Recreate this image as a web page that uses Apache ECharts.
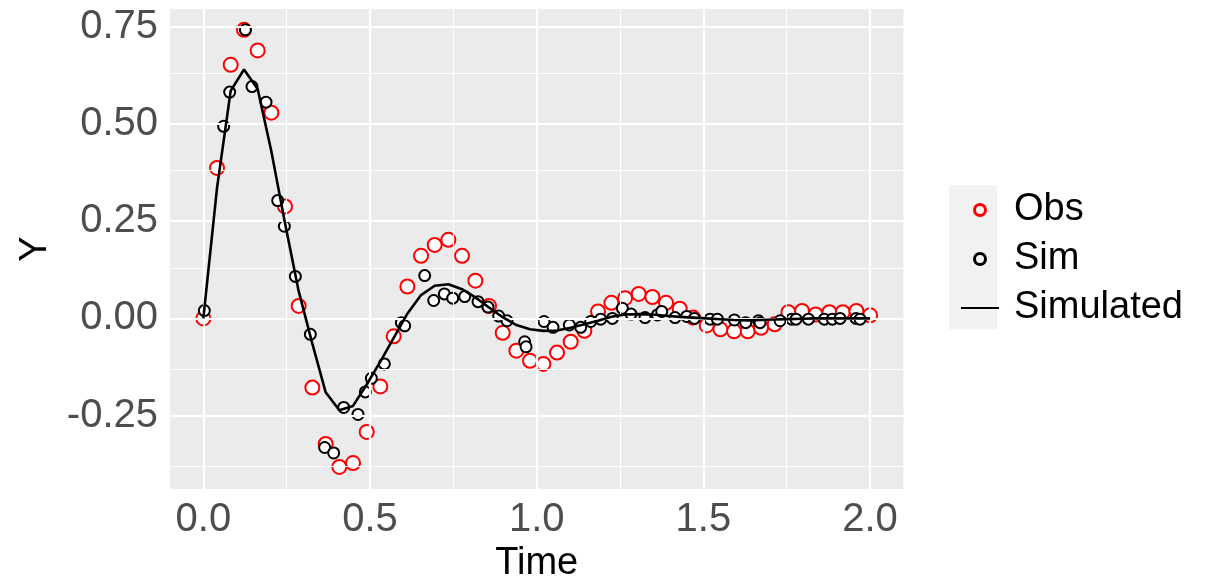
<!DOCTYPE html>
<html>
<head>
<meta charset="utf-8">
<script src="https://cdn.jsdelivr.net/npm/echarts@6/dist/echarts.min.js"></script>
<style>
html,body{margin:0;padding:0;background:#fff;}
#chart{width:1207px;height:580px;}
</style>
</head>
<body>
<div id="chart"></div>
<script>
// ---- data ----
const obsTime = [0.000, 0.041, 0.082, 0.122, 0.163, 0.204, 0.245, 0.286, 0.327, 0.367,
  0.408, 0.449, 0.490, 0.531, 0.571, 0.612, 0.653, 0.694, 0.735, 0.776,
  0.816, 0.857, 0.898, 0.939, 0.980, 1.020, 1.061, 1.102, 1.143, 1.184,
  1.224, 1.265, 1.306, 1.347, 1.388, 1.429, 1.469, 1.510, 1.551, 1.592,
  1.633, 1.673, 1.714, 1.755, 1.796, 1.837, 1.878, 1.918, 1.959, 2.000];
const obsY = [0.000, 0.387, 0.652, 0.742, 0.689, 0.529, 0.288, 0.032, -0.178, -0.323,
  -0.382, -0.372, -0.292, -0.175, -0.046, 0.082, 0.161, 0.189, 0.202, 0.161,
  0.097, 0.032, -0.037, -0.083, -0.109, -0.117, -0.088, -0.060, -0.032, 0.018,
  0.040, 0.052, 0.063, 0.055, 0.040, 0.025, 0.002, -0.018, -0.028, -0.033,
  -0.033, -0.024, -0.015, 0.016, 0.019, 0.010, 0.016, 0.016, 0.019, 0.008];
const simulatedY = [0.000, 0.335, 0.585, 0.640, 0.590, 0.430, 0.245, 0.070, -0.065, -0.190,
  -0.236, -0.225, -0.170, -0.111, -0.050, 0.012, 0.060, 0.084, 0.088, 0.075,
  0.054, 0.028, 0.003, -0.017, -0.028, -0.032, -0.031, -0.024, -0.015, -0.006,
  0.004, 0.010, 0.011, 0.010, 0.007, 0.004, 0.002, 0.000, -0.002, -0.004,
  -0.005, -0.004, -0.003, -0.002, -0.001, 0.000, 0.000, 0.000, 0.000, 0.000];
const simTime = [0.003, 0.061, 0.079, 0.126, 0.146, 0.188, 0.223, 0.243, 0.276, 0.321,
  0.364, 0.391, 0.421, 0.464, 0.486, 0.504, 0.543, 0.594, 0.604, 0.664,
  0.691, 0.723, 0.748, 0.784, 0.824, 0.854, 0.886, 0.911, 0.964, 0.968,
  1.022, 1.049, 1.098, 1.132, 1.162, 1.192, 1.227, 1.257, 1.283, 1.325,
  1.362, 1.375, 1.415, 1.450, 1.473, 1.520, 1.542, 1.593, 1.627, 1.665,
  1.670, 1.730, 1.765, 1.778, 1.815, 1.863, 1.887, 1.910, 1.958, 1.970];
const simY = [0.020, 0.494, 0.582, 0.742, 0.596, 0.556, 0.303, 0.237, 0.108, -0.041,
  -0.332, -0.346, -0.229, -0.247, -0.189, -0.154, -0.117, -0.011, -0.019, 0.110,
  0.046, 0.063, 0.052, 0.056, 0.043, 0.029, 0.006, -0.006, -0.060, -0.073,
  -0.008, -0.023, -0.017, -0.023, -0.008, -0.002, 0.000, 0.026, 0.011, 0.002,
  0.009, 0.018, 0.002, 0.005, 0.000, -0.002, -0.002, -0.004, -0.011, -0.006,
  -0.011, -0.006, -0.002, -0.002, -0.002, -0.002, -0.002, 0.000, 0.000, -0.002];
const xTicks = [0, 0.5, 1.0, 1.5, 2.0];
const xTickLabels = ['0.0', '0.5', '1.0', '1.5', '2.0'];
const xMinor = [0.25, 0.75, 1.25, 1.75];
const yTicks = [-0.25, 0, 0.25, 0.5, 0.75];
const yTickLabels = ['-0.25', '0.00', '0.25', '0.50', '0.75'];
const yMinor = [-0.375, -0.125, 0.125, 0.375, 0.625];

// ---- chart ----
const chart = echarts.init(document.getElementById('chart'), null, {renderer: 'canvas'});
const FONT = '"Liberation Sans", Arial, sans-serif';
const zip = (a, b) => a.map((v, i) => [v, b[i]]);
const gridLines = [];
xMinor.forEach(v => gridLines.push({xAxis: v, lineStyle: {width: 1.1}}));
yMinor.forEach(v => gridLines.push({yAxis: v, lineStyle: {width: 1.1}}));
xTicks.forEach(v => gridLines.push({xAxis: v, lineStyle: {width: 2.2}}));
yTicks.forEach(v => gridLines.push({yAxis: v, lineStyle: {width: 2.2}}));

const option = {
  animation: false,
  backgroundColor: '#FFFFFF',
  grid: {left: 170, right: 303.6, top: 9, bottom: 91, show: true,
    backgroundColor: '#EBEBEB', borderWidth: 0, containLabel: false,
    outerBoundsMode: 'none'},
  xAxis: {
    type: 'value', min: -0.1, max: 2.1,
    name: 'Time', nameLocation: 'middle', nameGap: 54,
    nameTextStyle: {fontFamily: FONT, fontSize: 38, color: '#000000'},
    axisLine: {show: false},
    axisTick: {show: true, customValues: xTicks, length: 6, lineStyle: {color: '#333333', width: 2}},
    axisLabel: {customValues: xTicks, margin: 11, fontFamily: FONT, fontSize: 40, color: '#4D4D4D',
      formatter: v => xTickLabels[xTicks.indexOf(v)] ?? ''},
    splitLine: {show: false}
  },
  yAxis: {
    type: 'value', min: -0.4387, max: 0.7956,
    name: 'Y', nameLocation: 'middle', nameGap: 115, nameRotate: 90,
    nameTextStyle: {fontFamily: FONT, fontSize: 38, color: '#000000'},
    axisLine: {show: false},
    axisTick: {show: true, customValues: yTicks, length: 6, lineStyle: {color: '#333333', width: 2}},
    axisLabel: {customValues: yTicks, margin: 12, fontFamily: FONT, fontSize: 40, color: '#4D4D4D',
      padding: [8, 0, 0, 0],
      formatter: v => yTickLabels[yTicks.indexOf(v)] ?? ''},
    splitLine: {show: false}
  },
  legend: {
    orient: 'vertical', left: 955, top: 186,
    itemWidth: 38, itemHeight: 11, itemGap: 11,
    textStyle: {fontFamily: FONT, fontSize: 38, color: '#000000', padding: [0, 0, 0, 10]},
    data: [
      {name: 'Obs', icon: 'circle', itemStyle: {color: 'rgba(0,0,0,0)', borderColor: '#FF0000', borderWidth: 3, opacity: 1}},
      {name: 'Sim', icon: 'circle', itemStyle: {color: 'rgba(0,0,0,0)', borderColor: '#000000', borderWidth: 3, opacity: 1}},
      {name: 'Simulated', itemStyle: {opacity: 0}}
    ]
  },
  graphic: [{
    type: 'rect', left: 949, top: 185, z: -1,
    shape: {width: 48, height: 144},
    style: {fill: '#F2F2F2'}
  }],
  series: [
    {
      name: 'grid', type: 'line', data: [], z: 1, silent: true,
      markLine: {silent: true, symbol: ['none', 'none'], label: {show: false},
        lineStyle: {color: '#FFFFFF', type: 'solid'}, animation: false,
        emphasis: {disabled: true}, data: gridLines}
    },
    {
      name: 'Obs', type: 'scatter', z: 3, data: zip(obsTime, obsY),
      symbol: 'emptyCircle', symbolSize: 14,
      itemStyle: {color: '#FF0000', borderColor: '#FF0000', borderWidth: 2.2, opacity: 1}
    },
    {
      name: 'Sim', type: 'scatter', z: 4, data: zip(simTime, simY),
      symbol: 'emptyCircle', symbolSize: 11,
      itemStyle: {color: '#000000', borderColor: '#000000', borderWidth: 2.1, opacity: 1}
    },
    {
      name: 'Simulated', type: 'line', z: 5, data: zip(obsTime, simulatedY),
      symbol: 'none', showSymbol: false,
      lineStyle: {color: '#000000', width: 2.6, opacity: 1}, itemStyle: {color: '#000000'}
    }
  ]
};
chart.setOption(option);
</script>
</body>
</html>
